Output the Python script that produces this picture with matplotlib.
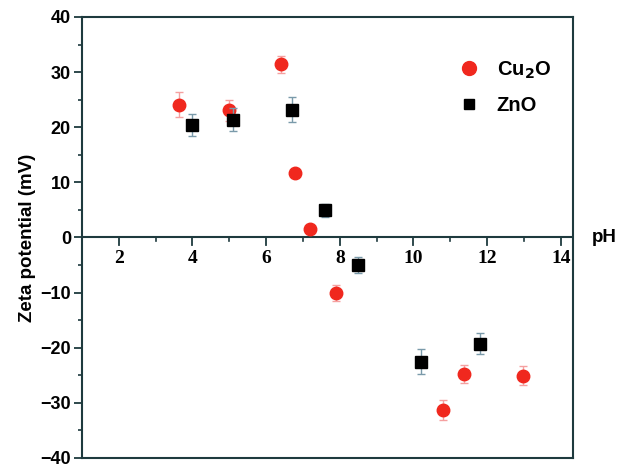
import matplotlib
matplotlib.use("Agg")
import matplotlib.pyplot as plt
from matplotlib.ticker import MultipleLocator
from matplotlib.lines import Line2D

# Cu2O data
cu_ph   = [3.63, 4.99, 6.4, 6.78, 7.2, 7.9, 10.8, 11.37, 12.98]
cu_zeta = [24.1, 23.1, 31.4, 11.7, 1.5, -10.1, -31.3, -24.8, -25.1]
cu_err  = [2.3, 1.9, 1.6, 0.8, 0.6, 1.5, 1.8, 1.6, 1.7]

# ZnO data
zn_ph   = [4.0, 5.1, 6.7, 7.6, 8.5, 10.2, 11.8]
zn_zeta = [20.4, 21.4, 23.2, 4.9, -5.0, -22.5, -19.3]
zn_err  = [2.0, 2.1, 2.3, 1.2, 1.4, 2.3, 1.9]

xt = [2, 4, 6, 8, 10, 12, 14]
xm = [3, 5, 7, 9, 11, 13]

spine_col = "#1e3a3e"
red = "#f0281e"

fig = plt.figure(figsize=(6.18, 4.68), dpi=100)
ax = fig.add_axes([0.1327, 0.0214, 0.7943, 0.9423])

ax.errorbar(cu_ph, cu_zeta, yerr=cu_err, fmt="o", color=red, ms=9,
            ecolor="#f5a0a0", elinewidth=1, capsize=3, zorder=3)
ax.errorbar(zn_ph, zn_zeta, yerr=zn_err, fmt="s", color="black", ms=8,
            ecolor="#7a9aaa", elinewidth=1, capsize=3, zorder=4)

ax.set_xlim(1, 14.33)
ax.set_ylim(-40, 40)

for s in ax.spines.values():
    s.set_color(spine_col)
    s.set_linewidth(1.5)

# y axis ticks
ax.yaxis.set_major_locator(MultipleLocator(10))
ax.yaxis.set_minor_locator(MultipleLocator(5))
ax.tick_params(axis="y", which="major", direction="out", length=6, width=1.3,
               color=spine_col, labelsize=13, pad=2)
ax.tick_params(axis="y", which="minor", direction="out", length=3, width=1.2,
               color=spine_col)
for lab in ax.get_yticklabels():
    lab.set_fontfamily("Liberation Sans")
    lab.set_fontweight("bold")

# x axis drawn at zero
ax.xaxis.set_ticks([])
ax.axhline(0, color=spine_col, lw=1.5, zorder=2)
for v in xt:
    ax.plot([v, v], [0, -1.3], color=spine_col, lw=1.3, zorder=2)
    ax.text(v, -2.2, str(v), ha="center", va="top", fontsize=14,
            fontfamily="Liberation Serif", fontweight="bold")
for v in xm:
    ax.plot([v, v], [0, -0.7], color=spine_col, lw=1.2, zorder=2)

ax.text(14.85, 0, "pH", ha="left", va="center", fontsize=13.5,
        fontfamily="Liberation Sans", fontweight="bold", clip_on=False)

ax.set_ylabel("Zeta potential (mV)", fontsize=13.5, fontfamily="Liberation Sans",
              fontweight="bold", labelpad=3)

handles = [Line2D([], [], marker="o", ls="", color=red, ms=10),
           Line2D([], [], marker="s", ls="", color="black", ms=7.5)]
ax.legend(handles, ["Cu$_\\mathbf{2}$O", "ZnO"], loc="upper left",
          bbox_to_anchor=(0.73, 0.945), frameon=False,
          prop={"family": "Liberation Sans", "weight": "bold", "size": 14.5},
          handletextpad=0.9, labelspacing=0.75, handlelength=1.0)

fig.savefig("out.png", dpi=100)
